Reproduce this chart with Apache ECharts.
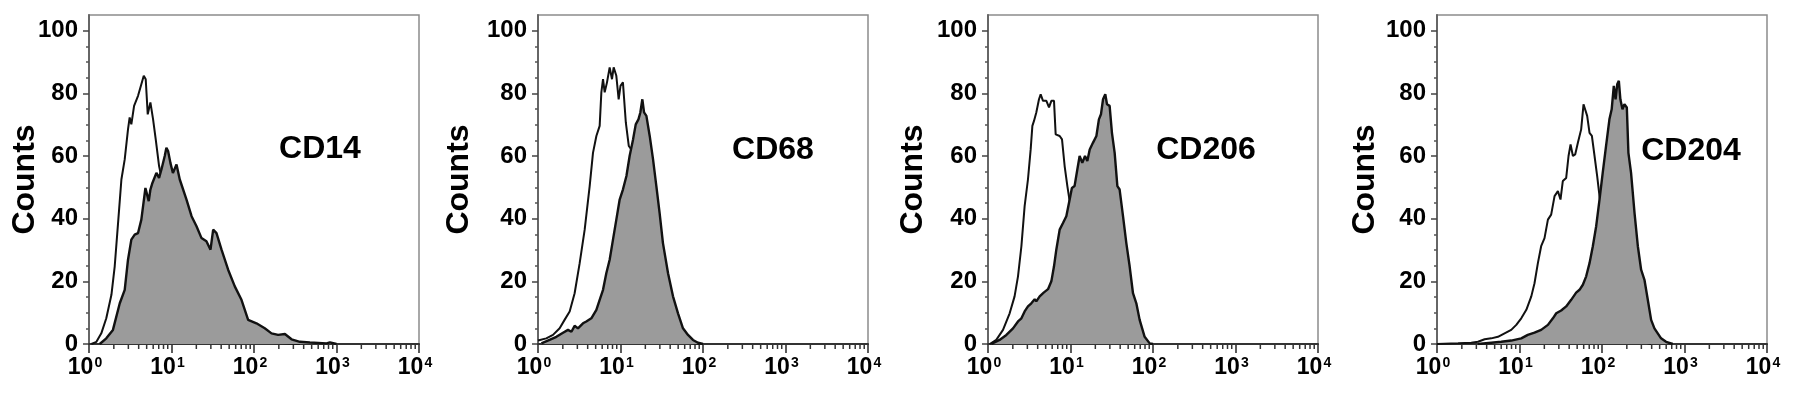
<!DOCTYPE html>
<html>
<head>
<meta charset="utf-8">
<script src="https://cdn.jsdelivr.net/npm/echarts@6/dist/echarts.min.js"></script>
<style>
html,body{margin:0;padding:0;background:#fff;}
#chart{width:1795px;height:396px;}
</style>
</head>
<body>
<div id="chart"></div>
<script>
// ---- data: [fluorescence intensity, counts] ----
const cd14Isotype = [[1.07,0],[1.23,0.7],[1.41,3.4],[1.62,8.2],[1.87,15.7],[2.05,24.8],[2.25,38.6],[2.47,52.5],[2.71,58.9],[2.97,68.5],[3.11,72.3],[3.26,70.1],[3.52,76],[3.93,79.2],[4.31,82.9],[4.61,85.6],[4.87,84.5],[5.15,73.3],[5.55,77.1],[5.98,71.7],[6.44,65.3],[7.07,56.8],[8.28,48.2],[10,39.7],[12.6,30.1],[16.6,21.6],[24.2,13],[38.5,6.6],[67.3,2.3],[141,0.4],[360,0]];
const cd14Stained = [[1.35,0],[1.62,1.8],[1.95,4.5],[2.36,13],[2.71,17.3],[2.97,26.9],[3.26,33.3],[3.58,34.9],[3.93,35.4],[4.31,39.7],[4.83,49.8],[5.06,50.4],[5.30,45.6],[5.55,49.3],[5.87,51.4],[6.56,54.6],[7.07,53],[7.55,55.7],[8.28,60],[8.67,62.6],[9.09,61.6],[9.70,57.8],[10.4,54.6],[11.5,57.3],[12.6,52.5],[15.2,46.1],[17.5,40.8],[20.1,37.6],[23.1,33.8],[26.5,32.8],[29.7,30.1],[32,36.5],[35.1,35.4],[40.4,30.1],[48.6,23.7],[58.5,18.4],[70.5,14.1],[84.9,7.7],[107,6.6],[135,5],[163,3.4],[196,2.9],[237,3.2],[285,1.5],[360,0.7],[476,0.5],[758,0.2],[832,0.5],[1000,0]];

const cd68Isotype = [[1.0,1.1],[1.26,1.8],[1.52,2.9],[1.83,5],[2.10,7.7],[2.42,10.4],[2.78,16.2],[3.20,25.8],[3.68,36.5],[4.23,50.4],[4.64,61],[5.10,66.4],[5.59,69.6],[5.86,80.3],[6.14,84.5],[6.43,80.3],[6.86,83.5],[7.39,88.3],[7.89,84.5],[8.26,88.3],[8.90,85.6],[9.50,78.1],[10.0,82.4],[10.7,83.5],[11.6,70.7],[12.6,63.2],[13.5,62.1],[15.6,50.4],[18.7,35.4],[22.6,22.6],[29.8,10.9],[39.4,4.5],[57.2,0.7],[91,0]];
const cd68Stained = [[1.10,0.2],[1.38,1.3],[1.67,2.3],[2.01,3.6],[2.31,4.5],[2.54,3.9],[2.78,5.8],[3.05,5],[3.51,6.6],[3.85,7.2],[4.43,8.2],[5.10,10.9],[5.59,14.1],[6.14,17.3],[6.73,22.6],[7.39,26.9],[8.11,33.3],[8.90,39.7],[9.77,46.1],[10.7,49.3],[11.8,53.6],[12.9,60],[14.2,65.3],[15.3,70.1],[16.5,71.7],[17.4,73.9],[18.4,78.1],[19.3,73.9],[20.6,72.8],[22.6,66.4],[24.8,58.9],[27.2,50.4],[29.8,41.8],[32.7,32.2],[37.7,22.6],[43.3,15.2],[49.8,9.8],[57.2,5],[65.8,2.9],[75.6,1.3],[86.9,0.4],[100,0]];

const cd206Isotype = [[1.05,0],[1.26,1.3],[1.52,4.5],[1.83,9.8],[2.10,15.2],[2.31,21.6],[2.54,31.2],[2.78,44],[3.05,52.5],[3.29,62.1],[3.45,69.6],[3.61,71.2],[3.85,73.9],[4.15,78.1],[4.35,79.7],[4.64,77.6],[5.10,77.6],[5.49,75.5],[5.86,77.6],[6.31,77.6],[6.61,66.9],[7.39,66.4],[7.89,65.3],[8.49,56.8],[9.16,50.4],[9.77,45.6],[11.8,33.3],[15.6,18.4],[22.6,7.7],[32.7,2.3],[57.2,0]];
const cd206Stained = [[1.10,0],[1.38,1.3],[1.67,2.9],[2.01,5],[2.31,7.2],[2.54,8.2],[2.78,10.4],[3.05,12],[3.35,13],[3.68,14.3],[3.85,13.6],[4.23,15.2],[4.73,16.4],[5.34,17.5],[5.86,20],[6.31,24.8],[6.73,30.1],[7.39,36.5],[8.11,38.6],[8.90,40.8],[9.77,46.1],[10.4,49.8],[11.2,50.4],[12.1,55.7],[12.9,60],[13.9,57.8],[15.0,60],[16.0,58.4],[17.1,62.1],[18.7,64.2],[20.6,66.4],[22.1,71.7],[23.4,73.3],[24.8,78.1],[26.4,79.7],[27.7,76.5],[29.8,76],[31.8,67.4],[34.3,61],[37.0,50.4],[39.4,49.3],[43.3,40.8],[47.5,32.2],[52.1,24.8],[57.2,16.2],[62.8,13],[68.9,7.7],[79.2,2.3],[91.1,0.2],[100,0]];

const cd204Isotype = [[1.0,0],[1.80,0.2],[2.60,0.4],[3.14,0.7],[3.78,1.5],[4.55,1.8],[5.48,2.3],[6.59,3.4],[7.94,4.5],[9.14,6.1],[10.5,8.2],[12.1,10.9],[13.9,15.2],[15.2,19.4],[16.7,25.8],[18.3,31.2],[20.1,33.8],[22.1,39.7],[24.2,41.3],[26.6,47.2],[29.2,48.8],[31.4,46.1],[33.5,52],[36.8,53],[39.3,60],[41.6,63.7],[44.4,60],[47.3,60.5],[51,64.2],[55.9,68.5],[59.7,76.5],[62.5,76.5],[66.1,72.8],[70.6,67.4],[75.4,66.4],[81.2,60],[87.4,53.6],[93.3,47.2],[107,35.4],[129,19.4],[171,7.7],[248,1.3],[394,0]];
const cd204Stained = [[3.14,0],[4.55,0.4],[6.01,0.7],[7.94,1.1],[10.5,1.8],[12.6,2.9],[15.2,3.6],[18.3,4.5],[22.1,6.1],[25.4,8.2],[27.9,9.8],[32,10.7],[36.8,12],[42.3,14.1],[48.6,16.4],[53.4,17.3],[58.6,18.9],[64.3,21.6],[70.6,25.8],[77.4,31.2],[85,37.6],[93.3,46.1],[102,54.6],[112,63.2],[123,71.7],[131,74.9],[139,82.4],[146,78.1],[153,82.9],[160,84],[167,78.1],[177,74.9],[187,76.5],[200,75.5],[209,61],[225,54.6],[248,41.8],[272,31.2],[298,23.7],[327,20.5],[359,14.1],[394,7.7],[432,5],[474,3.4],[520,1.8],[598,0.7],[721,0]];

const panelLabels = ['CD14', 'CD68', 'CD206', 'CD204'];
const isotypeSeries = [cd14Isotype, cd68Isotype, cd206Isotype, cd204Isotype];
const stainedSeries = [cd14Stained, cd68Stained, cd206Stained, cd204Stained];

// tick values
const yMajorTicks = [0, 20, 40, 60, 80, 100];
const yMinorTicks = [5, 10, 15, 25, 30, 35, 45, 50, 55, 65, 70, 75, 85, 90, 95];
const xDecades = [1, 10, 100, 1000];
const xMinorMultipliers = [2, 3, 4, 5, 6, 7, 8, 9];
const xMinorTicks = [];
xDecades.forEach(d => xMinorMultipliers.forEach(m => xMinorTicks.push(m * d)));

// ---- layout ----
const gridLefts = [89, 538, 988, 1437];
const gridTop = 15, gridWidth = 330, gridHeight = 329;
const nameGaps = [48, 63, 59, 56];
const labelPos = [[320, 149], [773, 150], [1206, 150], [1691, 151]];

const FONT = '"Liberation Sans", Arial, Helvetica, sans-serif';
const chart = echarts.init(document.getElementById('chart'), null, {renderer: 'canvas'});

const grid = [], xAxis = [], yAxis = [], series = [], graphic = [];
for (let i = 0; i < 4; i++) {
  grid.push({
    left: gridLefts[i], top: gridTop, width: gridWidth, height: gridHeight,
    show: true, borderColor: '#8c8c8c', borderWidth: 1.5, backgroundColor: 'transparent',
    containLabel: false, outerBoundsMode: 'none'
  });
  xAxis.push({
    type: 'log', logBase: 10, gridIndex: i, min: 1, max: 10000,
    axisLine: {show: true, onZero: false, lineStyle: {color: '#333', width: 2}},
    axisTick: {show: true, length: 9, lineStyle: {color: '#333', width: 1.6}},
    splitLine: {show: false},
    minorTick: {show: false},
    axisLabel: {
      margin: 12, padding: [0, 8, 0, 0],
      formatter: v => '{b|10}{s|' + Math.round(Math.log10(v)) + '}',
      rich: {
        b: {fontSize: 23, fontWeight: 'bold', fontFamily: FONT, color: '#000'},
        s: {fontSize: 14, fontWeight: 'bold', fontFamily: FONT, color: '#000', verticalAlign: 'top', padding: [0, 0, 0, 1]}
      }
    }
  });
  yAxis.push({
    type: 'value', gridIndex: i, min: 0, max: 105, position: 'left',
    name: 'Counts', nameLocation: 'middle', nameGap: nameGaps[i], nameMoveOverlap: false,
    nameTextStyle: {fontSize: 32, fontWeight: 'bold', fontFamily: FONT, color: '#000'},
    axisLine: {show: true, onZero: false, lineStyle: {color: '#666', width: 2}},
    axisTick: {show: true, length: 6, customValues: yMajorTicks, lineStyle: {color: '#444', width: 1.5}},
    axisLabel: {margin: 11, customValues: yMajorTicks, fontSize: 24, fontWeight: 'bold', fontFamily: FONT, color: '#000'},
    splitLine: {show: false}
  });
  yAxis.push({
    type: 'value', gridIndex: i, min: 0, max: 105, position: 'left',
    axisLine: {show: false},
    axisTick: {show: true, length: 3, customValues: yMinorTicks, lineStyle: {color: '#555', width: 1.5}},
    axisLabel: {show: false},
    splitLine: {show: false}
  });
  series.push({
    type: 'line', xAxisIndex: i, yAxisIndex: 2 * i, data: isotypeSeries[i],
    symbol: 'none', showSymbol: false, silent: true, z: 2,
    lineStyle: {color: '#111', width: 2}
  });
  series.push({
    type: 'line', xAxisIndex: i, yAxisIndex: 2 * i, data: stainedSeries[i],
    symbol: 'none', showSymbol: false, silent: true, z: 3,
    lineStyle: {color: '#111', width: 2.4},
    areaStyle: {color: '#9b9b9b', opacity: 1}
  });
  series.push({
    type: 'custom', xAxisIndex: i, yAxisIndex: 2 * i, silent: true, clip: false, z: 4,
    data: xMinorTicks.map(v => [v, 0]),
    renderItem: (params, api) => {
      const p = api.coord([api.value(0), 0]);
      return {type: 'line', shape: {x1: p[0], y1: p[1] + 1, x2: p[0], y2: p[1] + 5},
              style: {stroke: '#333', lineWidth: 1.5}};
    }
  });
  graphic.push({
    type: 'text', x: labelPos[i][0], y: labelPos[i][1], silent: true,
    style: {text: panelLabels[i], fontSize: 32, fontWeight: 'bold', fontFamily: FONT,
            fill: '#000', align: 'center', verticalAlign: 'middle'}
  });
}

chart.setOption({
  animation: false,
  backgroundColor: '#fff',
  grid, xAxis, yAxis, series, graphic
});
</script>
</body>
</html>
